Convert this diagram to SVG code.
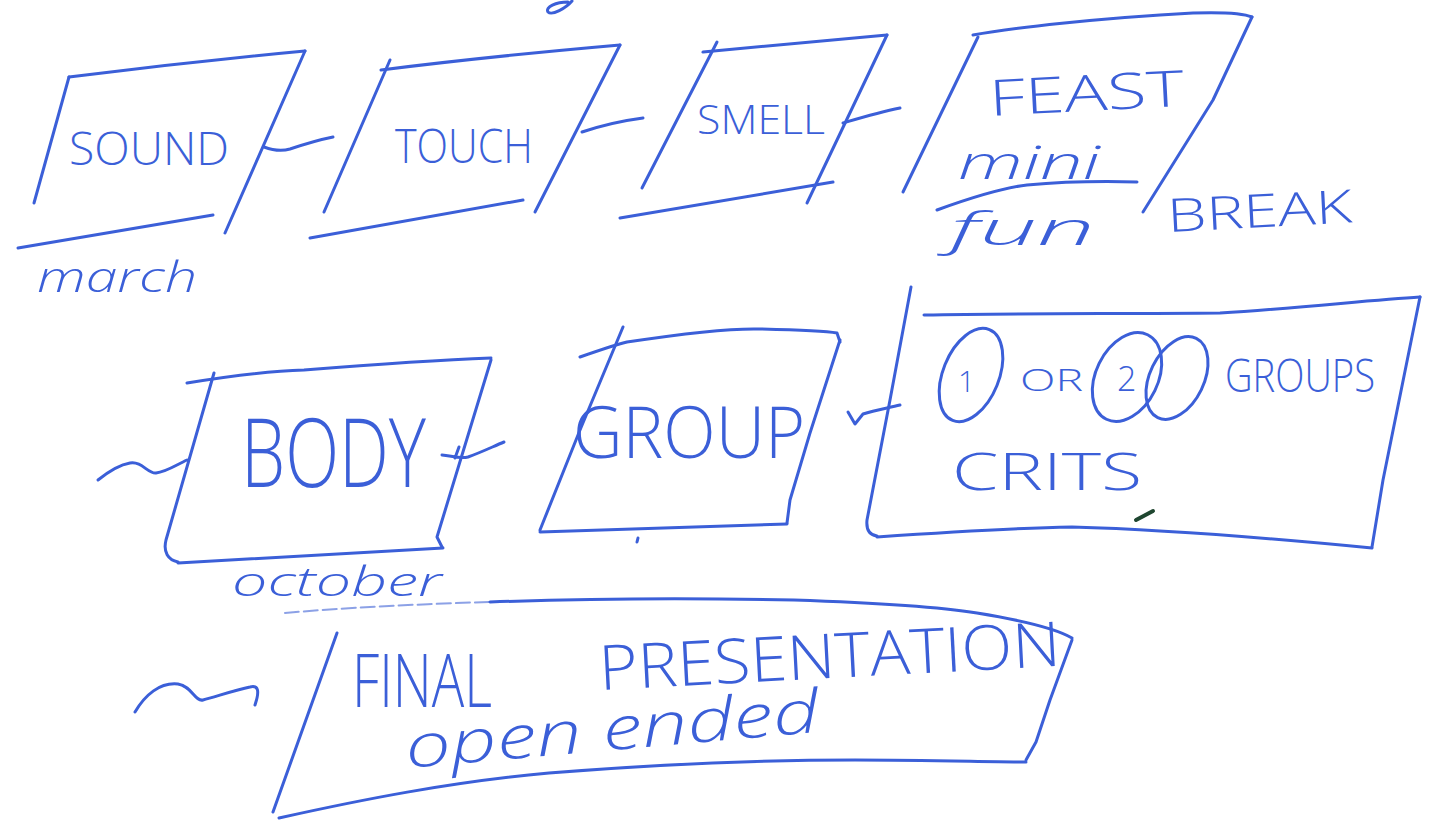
<svg xmlns="http://www.w3.org/2000/svg" width="1430" height="825" viewBox="0 0 1430 825">
  <style>
    .s { fill: none; stroke: #3b5fd8; stroke-width: 3; stroke-linecap: round; stroke-linejoin: round; }
    .faint { fill: none; stroke: #6f8ae0; stroke-width: 2; stroke-linecap: round; stroke-dasharray: 14 5; opacity: 0.8; }
    .t { fill: #3b5fd8; font-family: "Open Sans", "Liberation Sans", sans-serif; font-weight: 300; }
    .h { fill: #3b5fd8; font-family: "Open Sans", "Liberation Sans", sans-serif; font-weight: 300; font-style: italic; }
  </style>
  <rect width="1430" height="825" fill="#ffffff"/>

  <!-- fragment at top edge -->
  <path class="s" d="M572,1 C566,8 552,16 548,12 C545,7 556,2 568,2"/>

  <g id="sound">
    <path class="s" d="M69,77 C140,68 230,58 305,51"/>
    <path class="s" d="M69,77 L34,203"/>
    <path class="s" d="M305,51 L225,233"/>
    <path class="s" d="M18,248 L213,215"/>
    <text class="t" x="69" y="165" font-size="46" textLength="160" lengthAdjust="spacingAndGlyphs">SOUND</text>
    <text class="h" x="37" y="292" font-size="42" textLength="160" lengthAdjust="spacingAndGlyphs">march</text>
  </g>

  <g id="touch">
    <path class="s" d="M381,70 C460,60 540,52 620,45"/>
    <path class="s" d="M390,60 L324,212"/>
    <path class="s" d="M620,45 L535,212"/>
    <path class="s" d="M310,238 L523,200"/>
    <text class="t" x="395" y="163" font-size="48" textLength="138" lengthAdjust="spacingAndGlyphs">TOUCH</text>
  </g>

  <g id="smell">
    <path class="s" d="M703,52 L887,35"/>
    <path class="s" d="M717,42 L642,188"/>
    <path class="s" d="M887,35 L807,203"/>
    <path class="s" d="M620,218 L833,182"/>
    <text class="t" x="697" y="134" font-size="40" textLength="128" lengthAdjust="spacingAndGlyphs">SMELL</text>
  </g>

  <g id="feast">
    <path class="s" d="M973,35 C1010,28 1100,18 1193,13 C1225,12 1245,14 1252,17"/>
    <path class="s" d="M978,37 L903,192"/>
    <path class="s" d="M1252,17 L1213,100 L1143,212"/>
    <path class="s" d="M937,210 C970,198 1000,188 1027,185 C1060,182 1100,181 1137,182"/>
    <text class="t" x="990" y="116" font-size="50" textLength="195" lengthAdjust="spacingAndGlyphs" transform="rotate(-3 990 116)">FEAST</text>
    <text class="h" x="958" y="179" font-size="46" textLength="142" lengthAdjust="spacingAndGlyphs">mini</text>
    <text class="h" x="950" y="245" font-size="46" textLength="145" lengthAdjust="spacingAndGlyphs">fun</text>
    <text class="t" x="1168" y="232" font-size="46" textLength="185" lengthAdjust="spacingAndGlyphs" transform="rotate(-3 1168 232)">BREAK</text>
  </g>

  <g id="body">
    <path class="s" d="M187,383 C230,376 270,371 304,370 C380,364 440,360 491,358"/>
    <path class="s" d="M214,373 L166,540 C163,552 168,560 178,562"/>
    <path class="s" d="M178,563 L443,548"/>
    <path class="s" d="M491,360 L437,537 L442,547"/>
    <text class="t" x="241" y="487" font-size="96" textLength="185" lengthAdjust="spacingAndGlyphs">BODY</text>
    <text class="h" x="232" y="596" font-size="40" textLength="210" lengthAdjust="spacingAndGlyphs">october</text>
  </g>

  <g id="group">
    <path class="s" d="M580,357 C600,350 615,345 627,342 C680,334 727,328 760,329 C800,330 825,331 837,333 L840,342"/>
    <path class="s" d="M623,327 L580,430 L540,530"/>
    <path class="s" d="M840,340 L810,433 L790,500 L787,523"/>
    <path class="s" d="M540,532 L787,524"/>
    <path class="s" d="M638,538 L637,542"/>
    <text class="t" x="573" y="458" font-size="72" textLength="232" lengthAdjust="spacingAndGlyphs">GROUP</text>
  </g>

  <g id="crits">
    <path class="s" d="M911,287 L890,400 L867,520 C866,530 870,535 877,536"/>
    <path class="s" d="M924,315 C1020,313 1120,314 1220,313 C1300,308 1370,300 1420,297"/>
    <path class="s" d="M1420,297 L1383,480 L1372,547"/>
    <path class="s" d="M877,537 C950,532 1020,528 1072,527 C1180,530 1290,540 1372,548"/>
    <ellipse class="s" cx="971" cy="375" rx="28" ry="49" transform="rotate(22 971 375)"/>
    <ellipse class="s" cx="1127" cy="377" rx="31" ry="47" transform="rotate(26 1127 377)"/>
    <ellipse class="s" cx="1177" cy="378" rx="27" ry="44" transform="rotate(26 1177 378)"/>
    <text class="t" x="958" y="392" font-size="30">1</text>
    <text class="t" x="1020" y="391" font-size="32" textLength="63" lengthAdjust="spacingAndGlyphs">OR</text>
    <text class="t" x="1117" y="391" font-size="34">2</text>
    <text class="t" x="1225" y="392" font-size="46" textLength="150" lengthAdjust="spacingAndGlyphs">GROUPS</text>
    <text class="t" x="952" y="490" font-size="52" textLength="190" lengthAdjust="spacingAndGlyphs">CRITS</text>
    <path d="M1136,520 L1153,511" fill="none" stroke="#1f4630" stroke-width="4" stroke-linecap="round"/>
  </g>

  <g id="final">
    <path class="faint" d="M285,613 C340,608 420,604 490,602"/>
    <path class="s" d="M490,602 C600,598 700,598 794,600 C880,603 940,607 977,613 C1020,620 1055,628 1072,638"/>
    <path class="s" d="M337,633 L273,812"/>
    <path class="s" d="M1072,640 L1050,700 L1036,742 L1026,760"/>
    <path class="s" d="M279,818 C360,800 450,782 549,773 C650,765 760,760 855,760 C930,760 990,762 1026,762"/>
    <text class="t" x="352" y="707" font-size="74" textLength="140" lengthAdjust="spacingAndGlyphs">FINAL</text>
    <text class="t" x="600" y="690" font-size="62" textLength="462" lengthAdjust="spacingAndGlyphs" transform="rotate(-3 600 690)">PRESENTATION</text>
    <text class="h" x="407" y="768" font-size="60" textLength="415" lengthAdjust="spacingAndGlyphs" transform="rotate(-5 407 768)">open ended</text>
  </g>

  <g id="connectors">
    <path class="s" d="M264,147 C272,150 280,152 290,149 C305,144 318,140 333,137"/>
    <path class="s" d="M582,132 C600,126 620,121 643,118"/>
    <path class="s" d="M843,123 C860,118 880,112 900,108"/>
    <path class="s" d="M98,480 C108,472 118,465 130,463 C142,461 148,474 156,473 C166,472 176,465 187,460"/>
    <path class="s" d="M442,455 C452,456 460,459 468,457 C482,452 492,447 504,442 M459,447 L455,458"/>
    <path class="s" d="M848,412 L855,424 L863,414 C875,410 888,408 900,405"/>
    <path class="s" d="M135,712 C145,695 160,682 178,684 C192,686 195,702 203,700 C215,697 235,690 250,687 C258,685 260,690 255,705"/>
  </g>
</svg>
